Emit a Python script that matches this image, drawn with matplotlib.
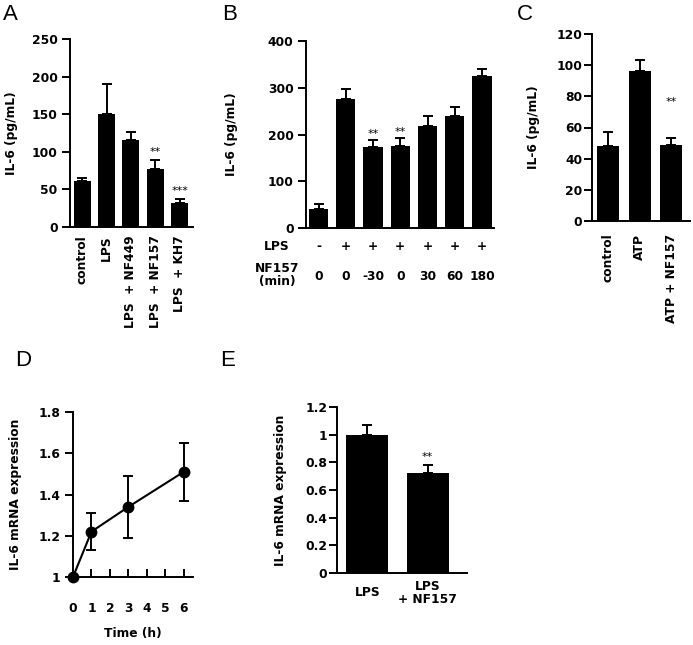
import matplotlib
matplotlib.use('Agg')
import matplotlib.pyplot as plt
import numpy as np

plt.rcParams['font.family'] = ['DejaVu Sans']
plt.rcParams['font.weight'] = 'bold'
plt.rcParams['axes.labelweight'] = 'bold'
plt.rcParams['axes.linewidth'] = 1.4

FS = 8.8

# data
a_labels = ['control', 'LPS', 'LPS  + NF449', 'LPS  + NF157', 'LPS  + KH7']
a_vals = [61, 150, 116, 77, 32]
a_err = [4, 40, 10, 12, 5]
a_stars = ['', '', '', '**', '***']

b_lps = ['-', '+', '+', '+', '+', '+', '+']
b_time = ['0', '0', '-30', '0', '30', '60', '180']
b_vals = [40, 275, 174, 176, 219, 240, 325]
b_err = [12, 22, 14, 17, 21, 18, 15]
b_stars = ['', '', '**', '**', '', '', '']

c_labels = ['control', 'ATP', 'ATP + NF157']
c_vals = [48, 96, 48.5]
c_err = [9, 7, 5]
c_stars = ['', '', '**']

d_time = [0, 1, 3, 6]
d_vals = [1.0, 1.22, 1.34, 1.51]
d_err = [0, 0.09, 0.15, 0.14]

e_labels = ['LPS', 'LPS\n+ NF157']
e_vals = [1.0, 0.72]
e_err = [0.07, 0.06]
e_stars = ['', '**']

W, H = 693, 645
fig = plt.figure(figsize=(W / 100, H / 100), dpi=100)


def add_ax(l, r, t, b):
    return fig.add_axes([l / W, 1 - b / H, (r - l) / W, (b - t) / H])


def style(ax):
    ax.spines['top'].set_visible(False)
    ax.spines['right'].set_visible(False)
    ax.tick_params(axis='y', direction='out', length=6, width=1.4, labelsize=FS, pad=3)


def bars(ax, vals, err, stars, star_off):
    x = np.arange(len(vals))
    ax.bar(x, vals, width=0.7, color='black', zorder=2)
    ax.errorbar(x, vals, yerr=[np.zeros(len(err)), err], fmt='none', ecolor='black',
                elinewidth=1.4, capsize=3.5, capthick=1.4, zorder=1)
    for xi, v, e, s in zip(x, vals, err, stars):
        if s:
            ax.text(xi, v + e + star_off, s, ha='center', va='center', fontsize=8, fontweight='normal')
    return x


def fig_text(x, y, s, **kw):
    fig.text(x / W, 1 - y / H, s, **kw)


# A
ax = add_ax(70, 193, 39, 227)
x = bars(ax, a_vals, a_err, a_stars, 11)
ax.set_xlim(-0.5, 4.55)
ax.set_ylim(0, 250)
ax.set_yticks([0, 50, 100, 150, 200, 250])
ax.set_xticks(x)
ax.set_xticklabels(a_labels, rotation=90, fontsize=FS)
ax.tick_params(axis='x', length=0, pad=6)
style(ax)
ax.set_ylabel('IL-6 (pg/mL)', fontsize=FS)
ax.yaxis.set_label_coords((18 - 70) / 123, 0.5)

# B
ax = add_ax(306, 494, 41, 228)
x = bars(ax, b_vals, b_err, b_stars, 12)
ax.set_xlim(-0.46, 6.44)
ax.set_ylim(0, 400)
ax.set_yticks([0, 100, 200, 300, 400])
ax.set_xticks([])
style(ax)
ax.set_ylabel('IL-6 (pg/mL)', fontsize=FS)
ax.yaxis.set_label_coords((238 - 306) / 188, 0.5)
for xi, lp, t in zip(x, b_lps, b_time):
    ax.text(xi, -0.10, lp, transform=ax.get_xaxis_transform(), ha='center', va='center', fontsize=FS)
    ax.text(xi, -0.26, t, transform=ax.get_xaxis_transform(), ha='center', va='center', fontsize=FS)
fig_text(277, 246, 'LPS', ha='center', va='center', fontsize=FS)
fig_text(277, 275, 'NF157\n(min)', ha='center', va='center', fontsize=FS, linespacing=0.95)

# C
ax = add_ax(592, 690, 34, 221)
x = bars(ax, c_vals, c_err, c_stars, 23)
ax.set_xlim(-0.51, 2.6)
ax.set_ylim(0, 120)
ax.set_yticks([0, 20, 40, 60, 80, 100, 120])
ax.set_xticks(x)
ax.set_xticklabels(c_labels, rotation=90, fontsize=FS)
ax.tick_params(axis='x', length=0, pad=9)
style(ax)
ax.tick_params(axis='y', pad=1)
ax.set_ylabel('IL-6 (pg/mL)', fontsize=FS)
ax.yaxis.set_label_coords((540 - 592) / 98, 0.5)

# D
ax = add_ax(73, 193, 412, 577)
ax.errorbar(d_time, d_vals, yerr=d_err, color='black', lw=1.5, marker='o', ms=7.5,
            elinewidth=1.4, capsize=3.5, capthick=1.4, clip_on=False, zorder=3)
ax.set_xlim(0, 6.5)
ax.set_ylim(1, 1.8)
ax.set_yticks([1, 1.2, 1.4, 1.6, 1.8])
ax.set_yticklabels(['1', '1.2', '1.4', '1.6', '1.8'])
ax.set_xticks(range(7))
style(ax)
ax.tick_params(axis='x', direction='in', length=6, width=1.4, labelsize=FS, pad=18)
ax.set_xlabel('Time (h)', fontsize=FS, labelpad=9)
ax.set_ylabel('IL-6 mRNA expression', fontsize=FS)
ax.yaxis.set_label_coords((22 - 73) / 120, 0.5)

# E
ax = add_ax(337, 467, 407, 573)
x = bars(ax, e_vals, e_err, e_stars, 0.06)
ax.set_xlim(-0.5, 1.65)
ax.set_ylim(0, 1.2)
ax.set_yticks([0, 0.2, 0.4, 0.6, 0.8, 1, 1.2])
ax.set_yticklabels(['0', '0.2', '0.4', '0.6', '0.8', '1', '1.2'])
ax.set_xticks([])
for xi, lab in zip(x, e_labels):
    ax.text(xi, -0.12, lab, transform=ax.get_xaxis_transform(), ha='center', va='center',
            fontsize=FS, linespacing=0.95)
style(ax)
ax.tick_params(axis='y', pad=1)
ax.set_ylabel('IL-6 mRNA expression', fontsize=FS)
ax.yaxis.set_label_coords((287 - 337) / 130, 0.5)

# panel letters
for px_, py_, s in [(3, 15, 'A'), (222, 15, 'B'), (517, 15, 'C'), (15, 360, 'D'), (220, 360, 'E')]:
    fig_text(px_, py_, s, ha='left', va='center', fontsize=16, fontweight='normal',
             family='Liberation Sans')

fig.savefig('out.png', dpi=100)
